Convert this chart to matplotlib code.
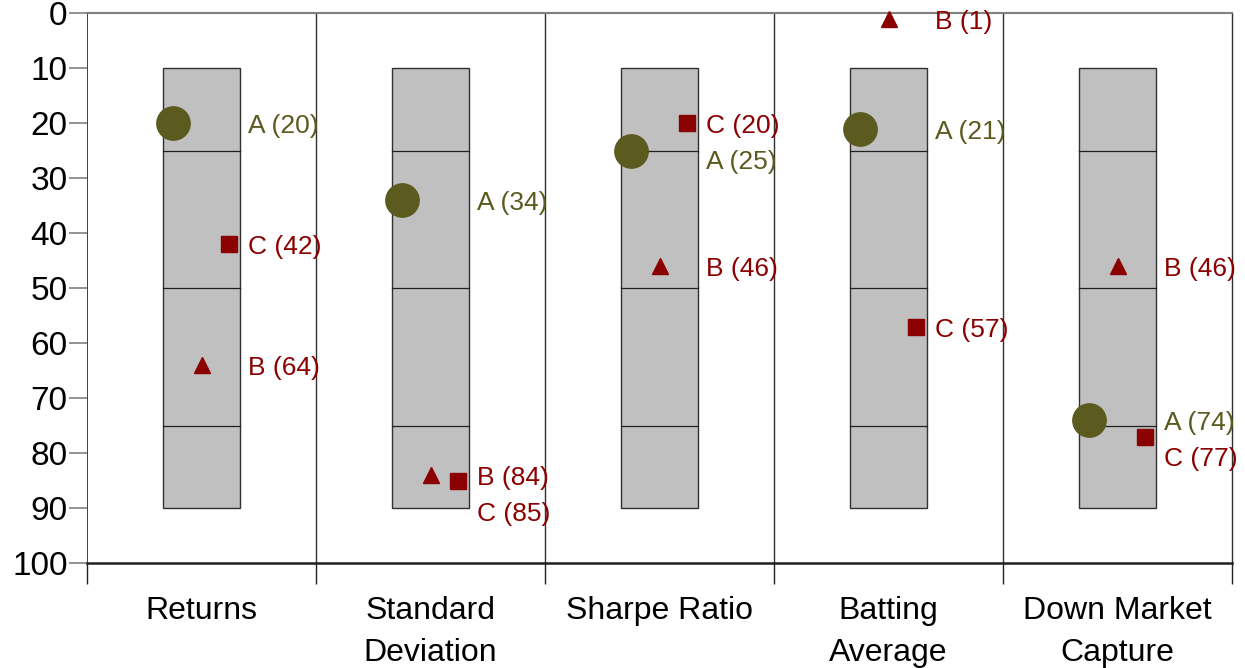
#!/usr/bin/env python3
"""Percentile-rank chart: quartile boxes per metric with three funds A, B, C."""

import matplotlib.pyplot as plt

plt.rcParams['font.family'] = ['Liberation Sans', 'DejaVu Sans']

CATEGORIES = ["Returns", "Standard\nDeviation", "Sharpe Ratio",
              "Batting\nAverage", "Down Market\nCapture"]
RANK_A = [20, 34, 25, 21, 74]
RANK_B = [64, 84, 46, 1, 46]
RANK_C = [42, 85, 20, 57, 77]
BOX_EDGES = [10, 25, 50, 75, 90]  # 10th, 25th, 50th, 75th, 90th percentile

OLIVE = '#5b5a1f'
DARK_RED = '#8b0000'

SERIES = (
    ("A", RANK_A, OLIVE, 'o', 24, -0.124),
    ("B", RANK_B, DARK_RED, '^', 11, 0.0),
    ("C", RANK_C, DARK_RED, 's', 11, 0.122),
)


def main() -> None:
    fig = plt.figure(figsize=(12.45, 6.68), dpi=100)
    ax = fig.add_axes([87 / 1245, 1 - 563 / 668, 1145 / 1245, 550 / 668])

    n = len(CATEGORIES)
    ax.set_xlim(0, n)
    ax.set_ylim(100, 0)

    half = 0.168
    for i in range(n):
        c = i + 0.5
        ax.add_patch(plt.Rectangle((c - half, BOX_EDGES[0]), 2 * half,
                                   BOX_EDGES[-1] - BOX_EDGES[0],
                                   facecolor='#c0c0c0', edgecolor='#303030',
                                   linewidth=1.0, zorder=2))
        for q in BOX_EDGES[1:-1]:
            ax.plot([c - half, c + half], [q, q], color='#202020',
                    linewidth=0.9, zorder=3)

    # markers
    for name, vals, color, marker, size, dx in SERIES:
        for i, v in enumerate(vals):
            ax.plot(i + 0.5 + dx, v, marker=marker, color=color,
                    markersize=size, linestyle='none', zorder=5,
                    clip_on=False)

    # labels, pushed apart downward when they collide
    gap = 6.5
    for i in range(n):
        items = sorted(
            ((vals[i], name, color) for name, vals, color, *_ in SERIES),
            key=lambda t: t[0])
        last = -100
        for v, name, color in items:
            y = max(v + 0.6, last + gap)
            last = y
            ax.text(i + 0.5 + 0.205, y, f"{name} ({v})", color=color,
                    fontsize=19, va='center', ha='left', zorder=6)

    for x in range(1, n + 1):
        ax.axvline(x, color='#303030', linewidth=1.0, zorder=1,
                   clip_on=False)

    ax.set_yticks(range(0, 101, 10))
    ax.tick_params(axis='y', length=13, width=1.2, color='#808080',
                   labelsize=24, pad=1)
    ax.set_xticks(range(0, n + 1))
    ax.set_xticklabels([])
    ax.tick_params(axis='x', which='major', length=15, width=1.0,
                   color='#202020', direction='out')
    ax.set_xticks([i + 0.5 for i in range(n)], minor=True)
    ax.set_xticklabels(CATEGORIES, minor=True, fontsize=23,
                       linespacing=1.52)
    ax.tick_params(axis='x', which='minor', length=0, pad=24)

    for side in ('left', 'right'):
        ax.spines[side].set_visible(False)
    ax.spines['top'].set_color('#808080')
    ax.spines['top'].set_linewidth(1.5)
    ax.spines['bottom'].set_color('#202020')
    ax.spines['bottom'].set_linewidth(1.8)
    ax.axvline(0, color='#202020', linewidth=1.2, zorder=1)

    fig.savefig('out.png', dpi=100)
    plt.close(fig)


if __name__ == "__main__":
    main()
